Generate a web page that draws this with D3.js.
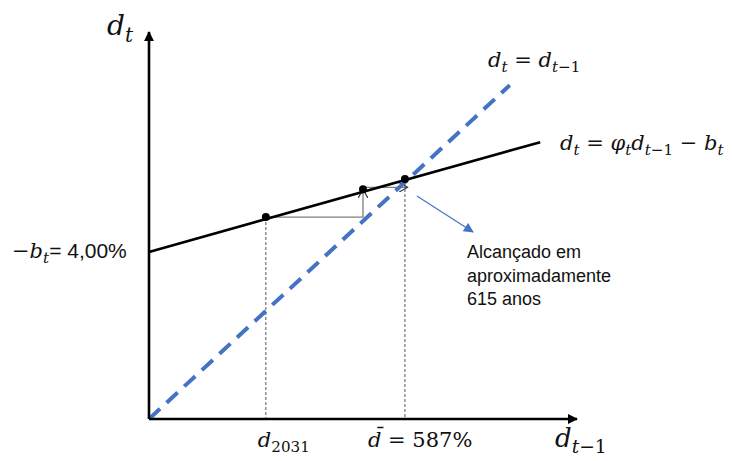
<!DOCTYPE html>
<html>
<head>
    <meta charset="utf-8">
    <title>Dinâmica da dívida</title>
    <script src="https://d3js.org/d3.v7.min.js"></script>
    <style>
        body { margin: 0; background: white; }
        .math { font-family: "DejaVu Serif", "Liberation Serif", serif; font-style: italic; fill: #111; }
        .up { font-style: normal; }
        .sans { font-family: "Liberation Sans", Arial, sans-serif; font-style: normal; }
        .note { font-family: "Liberation Sans", Arial, sans-serif; font-size: 18px; fill: #111; }
    </style>
</head>
<body>
    <div id="chart"></div>

    <script>
        // values, in abstract units (origin = 0)
        const axisEnd = [100, 97.7];                       // x-axis tip, y-axis tip
        const identityLine = [[0, 0], [84.3, 84.3]];       // d_t = d_{t-1}
        const debtLine = [[0, 42.2], [91.4, 69.9]];        // d_t = phi d_{t-1} - b_t
        const points = [[27.3, 51.0], [50.0, 58.0], [59.8, 60.6]];
        const tickX = [27.3, 59.8];
        const noteLines = ["Alcançado em", "aproximadamente", "615 anos"];

        const width = 733, height = 461;
        const x = d3.scaleLinear().domain([0, 100]).range([149, 577]);
        const y = d3.scaleLinear().domain([0, 100]).range([419, 23]);

        const svg = d3.select("#chart").append("svg")
            .attr("width", width).attr("height", height);

        const defs = svg.append("defs");
        defs.append("marker").attr("id", "solid")
            .attr("viewBox", "0 0 10 10").attr("refX", 9).attr("refY", 5)
            .attr("markerWidth", 10).attr("markerHeight", 10)
            .attr("markerUnits", "userSpaceOnUse").attr("orient", "auto")
            .append("path").attr("d", "M0,0 L10,5 L0,10 Z").attr("fill", "black");
        defs.append("marker").attr("id", "blueHead")
            .attr("viewBox", "0 0 10 10").attr("refX", 9).attr("refY", 5)
            .attr("markerWidth", 12).attr("markerHeight", 10)
            .attr("markerUnits", "userSpaceOnUse").attr("orient", "auto")
            .append("path").attr("d", "M0,0 L10,5 L0,10 Z").attr("fill", "#4472C4");
        defs.append("marker").attr("id", "open")
            .attr("viewBox", "0 0 10 10").attr("refX", 9).attr("refY", 5)
            .attr("markerWidth", 10).attr("markerHeight", 10)
            .attr("markerUnits", "userSpaceOnUse").attr("orient", "auto")
            .append("path").attr("d", "M0,0 L9,5 L0,10").attr("fill", "none")
            .attr("stroke", "#333").attr("stroke-width", 1.2);

        const line = d3.line().x(d => x(d[0])).y(d => y(d[1]));

        // dotted drop lines
        [points[0], points[2]].forEach(p => {
            svg.append("path")
                .attr("d", line([p, [p[0], 0]]))
                .attr("stroke", "#555").attr("stroke-width", 1)
                .attr("stroke-dasharray", "3,2").attr("fill", "none");
        });

        // staircase
        const [p1, p2, p3] = points;
        svg.append("path").attr("d", line([p1, [p2[0], p1[1]], [p2[0], p2[1]]]))
            .attr("stroke", "#7f7f7f").attr("stroke-width", 1.3).attr("fill", "none")
            .attr("marker-end", "url(#open)");
        svg.append("path").attr("d", line([[p2[0], p2[1] + 0.5], [p3[0] + 0.6, p2[1] + 0.5]]))
            .attr("stroke", "#7f7f7f").attr("stroke-width", 1.3).attr("fill", "none")
            .attr("marker-end", "url(#open)");

        // 45 degree line
        svg.append("path").attr("d", line(identityLine))
            .attr("stroke", "#4472C4").attr("stroke-width", 4)
            .attr("stroke-dasharray", "15,9").attr("fill", "none");

        // debt line
        svg.append("path").attr("d", line(debtLine))
            .attr("stroke", "black").attr("stroke-width", 2.6).attr("fill", "none");

        svg.selectAll(".dot").data(points).enter().append("circle")
            .attr("cx", d => x(d[0])).attr("cy", d => y(d[1])).attr("r", 4)
            .attr("fill", "black");

        // axes
        svg.append("path").attr("d", line([[0, 0], [axisEnd[0], 0]]))
            .attr("stroke", "black").attr("stroke-width", 2.6).attr("marker-end", "url(#solid)");
        svg.append("path").attr("d", line([[0, 0], [0, axisEnd[1]]]))
            .attr("stroke", "black").attr("stroke-width", 2.6).attr("marker-end", "url(#solid)");

        // annotation arrow
        svg.append("line")
            .attr("x1", x(p3[0]) + 12).attr("y1", y(p3[1]) + 17)
            .attr("x2", 473).attr("y2", 232)
            .attr("stroke", "#4472C4").attr("stroke-width", 1.2)
            .attr("marker-end", "url(#blueHead)");

        // math labels
        function mathText(xp, yp, size, parts, anchor) {
            const t = svg.append("text").attr("class", "math")
                .attr("x", xp).attr("y", yp).attr("font-size", size)
                .attr("text-anchor", anchor || "start");
            let down = false;
            parts.forEach(([s, kind]) => {
                const ts = t.append("tspan").text(s);
                const isSub = kind === "sub" || kind === "subup";
                if (isSub) ts.attr("font-size", size * 0.72);
                if (isSub && !down) { ts.attr("dy", size * 0.24); down = true; }
                if (!isSub && down) { ts.attr("dy", -size * 0.24); down = false; }
                if (kind === "up" || kind === "subup") ts.attr("class", "up");
                if (kind === "sans") ts.attr("class", "sans");
            });
            return t;
        }

        mathText(107, 35, 28, [["d"], ["t", "sub"]]);
        mathText(555, 447, 26, [["d"], ["t", "sub"], ["\u22121", "subup"]]);
        mathText(488, 67, 21, [["d"], ["t", "sub"], [" = ", "up"], ["d"], ["t", "sub"], ["\u22121", "subup"]]);
        mathText(560, 150, 21, [["d"], ["t", "sub"], [" = ", "up"], ["\u03c6"], ["t", "sub"], ["d"], ["t", "sub"], ["\u22121", "subup"], [" \u2212 ", "up"], ["b"], ["t", "sub"]]);
        mathText(12, 258, 21, [["\u2212", "up"], ["b"], ["t", "sub"], ["= 4,00%", "sans"]]);

        // x tick labels
        mathText(x(tickX[0]) - 8, 447, 21, [["d"], ["2031", "subup"]]);
        mathText(x(tickX[1]) - 37, 447, 21, [["d\u0304"], [" = 587%", "up"]]);

        // note
        svg.append("text").attr("class", "note").attr("x", 467).attr("y", 258)
            .selectAll("tspan").data(noteLines).enter().append("tspan")
            .attr("x", 467).attr("dy", (d, i) => i === 0 ? 0 : 23.5).text(d => d);
    </script>
</body>
</html>
